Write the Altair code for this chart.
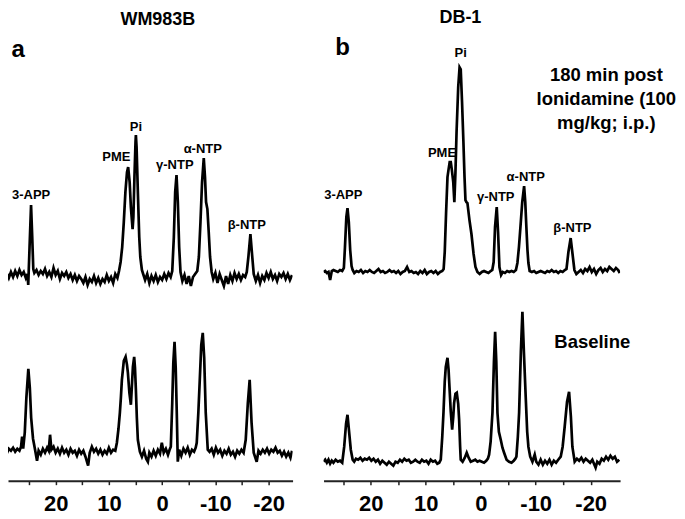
import altair as alt
import pandas as pd

# ---------------- data (ppm, intensity above baseline) ----------------
# Panel a (WM983B), 180 min post lonidamine
a_post_ppm = [30.0, 29.6, 29.2, 28.8, 28.4, 28.0, 27.6, 27.2, 26.8, 26.4, 26.0, 25.6, 25.3, 25.15, 24.9, 24.62, 24.4, 24.2,
              24.0, 23.6, 23.2, 22.8, 22.4, 22.0, 21.6, 21.2, 20.8, 20.4, 20.0, 19.6, 19.2, 18.8, 18.4, 18.0, 17.6, 17.2,
              16.8, 16.4, 16.0, 15.6, 15.2, 14.8, 14.4, 14.0, 13.6, 13.2, 12.8, 12.4, 12.0, 11.6, 11.2, 10.8, 10.4, 10.0,
              9.6, 9.2, 8.8, 8.4, 8.1, 7.8, 7.5, 7.2, 6.9, 6.6, 6.38, 6.1, 5.87, 5.55, 5.4, 5.2, 5.0, 4.93, 4.8, 4.56,
              4.3, 4.1, 3.8, 3.5, 3.2, 2.8, 2.4, 2.0, 1.6, 1.2, 0.8, 0.4, 0.0, -0.4, -0.8, -1.2, -1.6, -1.9, -2.2, -2.45,
              -2.7, -2.95, -3.2, -3.45, -3.8, -4.2, -4.6, -5.0, -5.4, -5.8, -6.2, -6.6, -6.9, -7.2, -7.5, -7.82, -8.05,
              -8.25, -8.5, -8.75, -9.0, -9.3, -9.6, -10.0, -10.4, -10.8, -11.2, -11.6, -12.0, -12.4, -12.8, -13.2, -13.6,
              -14.0, -14.4, -14.8, -15.2, -15.6, -15.9, -16.2, -16.58, -16.9, -17.2, -17.6, -18.0, -18.4, -18.8, -19.2,
              -19.6, -20.0, -20.4, -20.8, -21.2, -21.6, -22.0, -22.4, -22.8, -23.2, -23.6, -24.0, -24.4]
a_post_int = [2, -3, 4, -1, 5, 0, 6, 1, 7, 2, 5, -1, 3, -8, 30, 72, 40, 8,
              4, 7, 2, 6, 3, 8, 1, 5, 0, 9, 2, 6, -2, 4, 1, 5, -1, 3,
              -3, 2, -4, 1, -2, -6, 0, -8, -2, -5, 1, -6, -1, -7, -2, -5, 2, -4,
              0, -6, 3, -1, 6, 15, 30, 55, 85, 105, 110, 95, 70, 48, 60, 100, 135, 142, 130, 85,
              40, 20, 7, 2, -3, 3, -6, 1, -4, 2, -5, 0, -3, 3, -2, 4, 0, 6, 40, 85,
              102, 75, 30, 5, -4, 2, -7, 1, -9, 0, 3, 6, 20, 55, 95, 119, 100,
              75, 68, 45, 20, 5, -2, 4, -6, 3, -3, -9, 1, -7, 2, -4, 4,
              -2, 3, -3, 2, 0, 5, 20, 43, 22, 3, -4, 2, -6, 1, -3,
              4, -1, 5, -2, 2, -4, 3, 0, 4, -2, 3, -3, 2]

# Panel a (WM983B), baseline
a_base_ppm = [30.0, 29.6, 29.2, 28.8, 28.4, 28.0, 27.6, 27.2, 26.8, 26.5, 26.3, 26.1, 25.8, 25.5, 25.13, 24.85, 24.6,
              24.25, 23.9, 23.5, 23.2, 22.8, 22.4, 22.0, 21.6, 21.3, 21.05, 20.8, 20.4, 20.0, 19.6, 19.2, 18.8, 18.4,
              18.0, 17.6, 17.2, 16.8, 16.4, 16.0, 15.6, 15.2, 14.8, 14.4, 13.9, 13.6, 13.2, 12.8, 12.4, 12.0, 11.6,
              11.2, 10.8, 10.4, 10.0, 9.6, 9.2, 8.8, 8.5, 8.2, 7.94, 7.75, 7.56, 7.2, 6.86, 6.6, 6.43, 6.15, 5.87,
              5.65, 5.49, 5.25, 5.1, 4.93, 4.75, 4.56, 4.18, 3.8, 3.4, 3.0, 2.68, 2.4, 2.0, 1.6, 1.2, 0.8, 0.4, 0.06,
              -0.3, -0.7, -1.1, -1.4, -1.63, -1.9, -2.1, -2.33, -2.55, -2.75, -2.94, -3.2, -3.6, -4.0, -4.4, -4.8,
              -5.2, -5.6, -6.0, -6.3, -6.5, -6.8, -7.07, -7.35, -7.63, -7.9, -8.19, -8.57, -8.9, -9.3, -9.7, -10.1,
              -10.5, -10.9, -11.3, -11.7, -12.1, -12.5, -12.9, -13.3, -13.7, -14.1, -14.5, -14.9, -15.3, -15.7, -16.1,
              -16.44, -16.8, -17.2, -17.76, -18.1, -18.5, -18.9, -19.3, -19.7, -20.1, -20.5, -20.9, -21.3, -21.7,
              -22.1, -22.5, -22.9, -23.3, -23.7, -24.1, -24.4]
a_base_int = [0, 3, -1, 4, 2, 5, 1, 4, 2, 6, 16, 4, 20, 55, 84, 65, 35,
              14, 4, -8, 2, -2, 4, 0, 5, 2, 18, 3, 6, 0, 4, -1, 5, 0,
              3, -2, 4, 0, 2, -3, 3, -1, 2, -4, -13, 0, 6, 1, 4, -1, 3,
              -2, 2, -1, 5, 0, 3, 2, 10, 24, 40, 55, 73, 92, 96, 88, 80, 60, 48,
              70, 86, 96, 85, 63, 35, 13, 1, -4, 2, -6, -9, 0, -4, 2, -3, 3, -1, 10,
              0, 4, -2, 3, 6, 50, 90, 111, 85, 40, -9, 3, -3, 4, 0, 5,
              -2, 3, 1, 5, 10, 40, 73, 108, 120, 95, 40, 3, 1, 4, -2, 5,
              0, 3, -3, 2, -1, 4, -2, 1, -4, 2, -1, 3, 0, 13, 50,
              73, 30, 0, -9, 2, -1, 3, 0, 4, -1, 3, 1, 5, 0,
              2, -3, 1, -4, 0, -5, 2]

# Panel b (DB-1), 180 min post lonidamine
b_post_ppm = [28.6, 28.3, 28.0, 27.7, 27.4, 27.1, 26.8, 26.4, 26.0, 25.6, 25.2, 24.9, 24.7, 24.45, 24.24, 24.0, 23.75,
              23.5, 23.3, 23.0, 22.6, 22.2, 21.8, 21.4, 21.0, 20.6, 20.2, 19.8, 19.4, 19.0, 18.6, 18.2, 17.8, 17.4,
              17.0, 16.6, 16.2, 15.8, 15.4, 15.0, 14.6, 14.2, 13.8, 13.4, 13.0, 12.6, 12.2, 11.8, 11.4, 11.0, 10.6,
              10.2, 9.8, 9.4, 9.0, 8.6, 8.2, 7.8, 7.4, 7.0, 6.75, 6.55, 6.3, 6.05, 5.87, 5.65, 5.45, 5.25, 5.0, 4.8,
              4.6, 4.4, 4.1, 3.85, 3.64, 3.4, 3.15, 2.95, 2.78, 2.6, 2.42, 2.05, 1.69, 1.3, 0.96, 0.6, 0.2, -0.2,
              -0.6, -1.0, -1.4, -1.8, -2.1, -2.35, -2.6, -2.91, -3.15, -3.4, -3.7, -4.0, -4.4, -4.8, -5.2, -5.6, -6.0,
              -6.4, -6.67, -6.95, -7.22, -7.55, -7.89, -8.1, -8.3, -8.5, -8.67, -8.9, -9.3, -9.7, -10.1, -10.5,
              -10.9, -11.3, -11.7, -12.1, -12.5, -12.9, -13.3, -13.7, -14.1, -14.5, -14.9, -15.3, -15.6, -15.95,
              -16.36, -16.7, -17.04, -17.4, -17.8, -18.2, -18.6, -19.0, -19.4, -19.8, -20.2, -20.6, -21.0, -21.4,
              -21.8, -22.2, -22.6, -23.0, -23.4, -23.8, -24.2, -24.6, -25.0, -25.3]
b_post_int = [0, 1, -1, 0, -8, 1, 2, 1, 0, 2, 1, 4, 25, 55, 64, 50, 22,
              6, 2, -1, 1, 0, 2, -1, 1, 0, 2, 0, -1, 1, 3, 0, 1, -1,
              0, 2, 0, 1, -1, 1, -2, 0, 1, 5, 0, 1, -1, 0, -2, 1, -1,
              2, -2, 0, 1, -1, 1, -2, 0, 1, 3, 20, 60, 95, 102, 110, 110, 102, 90, 70,
              100, 140, 185, 205, 203, 170, 130, 95, 72, 70, 69, 52, 38, 18, 5, 0, -2, 0,
              1, 0, -1, 1, 2, 10, 45, 65, 40, 5, -3, 0, -1, 1, 0, 1, 0,
              2, 9, 25, 45, 70, 86, 70, 45, 22, 9, 1, 0, 1, -1, 0,
              1, 0, -1, 1, 0, 2, 0, 1, -1, 1, 0, 2, 3, 20,
              34, 18, 2, -2, 0, 2, -1, 3, 1, 5, 0, 3, -2, 2,
              4, 0, 3, 1, 5, 3, 1, 4, 2, -1]

# Panel b (DB-1), baseline
b_base_ppm = [28.6, 28.3, 28.0, 27.7, 27.4, 27.1, 26.8, 26.4, 26.0, 25.6, 25.2, 24.84, 24.5, 24.24, 23.95, 23.64, 23.3,
              23.02, 22.7, 22.3, 21.9, 21.5, 21.1, 20.7, 20.3, 19.9, 19.5, 19.1, 18.7, 18.3, 17.9, 17.5, 17.1, 16.7,
              16.3, 15.9, 15.5, 15.1, 14.7, 14.3, 13.9, 13.5, 13.1, 12.7, 12.3, 11.9, 11.5, 11.1, 10.7, 10.3, 9.9,
              9.5, 9.1, 8.7, 8.3, 7.9, 7.55, 7.27, 7.0, 6.78, 6.55, 6.36, 6.05, 5.85, 5.69, 5.45, 5.2, 5.0, 4.84,
              4.6, 4.36, 4.1, 3.93, 3.75, 3.64, 3.3, 2.9, 2.55, 2.2, 1.82, 1.4, 1.0, 0.6, 0.2, -0.2, -0.6, -1.0,
              -1.3, -1.52, -1.8, -2.13, -2.4, -2.62, -2.83, -3.04, -3.3, -3.64, -3.95, -4.25, -4.7, -5.16, -5.6,
              -6.0, -6.3, -6.49, -6.75, -6.98, -7.3, -7.58, -7.85, -8.18, -8.45, -8.67, -9.0, -9.4, -9.82, -10.1,
              -10.5, -10.9, -11.3, -11.7, -12.1, -12.5, -12.9, -13.3, -13.7, -14.1, -14.55, -14.9, -15.27, -15.7,
              -16.07, -16.4, -16.67, -17.09, -17.5, -17.9, -18.3, -18.7, -19.1, -19.5, -19.9, -20.3, -20.6, -20.9,
              -21.2, -21.6, -22.0, -22.4, -22.8, -23.2, -23.6, -24.0, -24.4, -24.8, -25.2]
b_base_int = [0, 2, -1, 2, -2, 1, -1, 2, 0, 1, -1, 15, 38, 47, 30, 12, 2,
              0, 3, 2, 4, 1, 3, 2, 4, 1, 3, 0, 2, -2, 1, -1, -3, 0,
              -2, -4, 0, -1, 2, 0, 3, 1, 2, -1, 0, 2, 0, -1, 2, 0, 1,
              -2, 2, 0, 1, -2, -1, 2, 25, 49, 80, 95, 104, 92, 75, 50, 32, 45, 59,
              68, 69, 58, 42, 15, 2, 0, 4, 9, 4, 0, 1, 2, 0, 1, 0, -1, 1,
              3, 7, 20, 49, 100, 130, 100, 49, 30, 22, 14, 9, 2, 0, -1,
              1, 3, 5, 25, 49, 110, 150, 110, 65, 30, 15, 5, 0, 7, 0,
              -3, 2, -3, 1, -2, 2, -3, 1, -1, 2, 5, 15, 35, 60,
              70, 45, 15, 0, 3, 1, 4, 0, 3, 1, -1, 2, -2, -6,
              0, -2, 3, 1, 5, 2, 6, 3, 5, 0, 2]

peak_names = ["3-APP", "PME", "Pi", "γ-NTP", "α-NTP", "β-NTP"]
# label anchor (ppm, intensity) for each panel's upper spectrum
a_label_ppm = [24.6, 8.6, 4.93, -2.38, -7.63, -15.9]
a_label_int = [82, 120, 150, 112, 128, 52]
b_label_ppm = [25.0, 7.05, 3.64, -2.73, -8.18, -16.67]
b_label_int = [77, 119, 219, 75, 95, 44]

FONT = "Liberation Sans"
A_XDOM = [28.95, -24.5]
B_XDOM = [28.6, -25.35]
TICKS = [25, 20, 15, 10, 5, 0, -5, -10, -15, -20]

bottom_axis = alt.Axis(
    values=TICKS,
    labelExpr="datum.value % 10 == 0 ? '' + datum.value : ''",
    title=None, grid=False,
    domainColor="#222222", domainWidth=2,
    tickColor="#222222", tickWidth=1.5, tickSize=4,
    labelFont=FONT, labelFontSize=22, labelFontWeight="bold", labelColor="black",
    labelPadding=9, labelFlush=False, labelOverlap=False,
)


def txt(x, y, text, xscale, yscale, axis, size=13, **kw):
    return alt.Chart().mark_text(
        text=text, font=FONT, fontSize=size, fontWeight="bold", color="black",
        align="center", baseline="middle", **kw
    ).encode(
        x=alt.X(datum=x, type="quantitative", scale=xscale, axis=axis),
        y=alt.Y(datum=y, type="quantitative", scale=yscale, axis=None),
    )


def panel(ppm, inten, xdom, ydom, width, height, axis, texts):
    xs = alt.Scale(domain=xdom, nice=False, zero=False)
    ys = alt.Scale(domain=ydom, nice=False, zero=False)
    df = pd.DataFrame({"ppm": ppm, "int": inten})
    line = alt.Chart(df).mark_line(color="black", strokeWidth=2.7, clip=True).encode(
        x=alt.X("ppm:Q", scale=xs, axis=axis),
        y=alt.Y("int:Q", scale=ys, axis=None),
        order="idx:Q",
    ).transform_window(idx="row_number()")
    layers = [line] + [txt(t[0], t[1], t[2], xs, ys, axis, **t[3]) for t in texts]
    return alt.layer(*layers).properties(width=width, height=height)


a_texts = [(x, y, n, {}) for x, y, n in zip(a_label_ppm, a_label_int, peak_names)]
a_texts += [(0.8, 257, "WM983B", {"size": 18}), (27.06, 227, "a", {"size": 24})]
b_texts = [(x, y, n, {}) for x, y, n in zip(b_label_ppm, b_label_int, peak_names)]
b_texts += [(3.7, 254, "DB-1", {"size": 18}), (25.15, 224, "b", {"size": 24}),
            (-22.85, 197, ["180 min post", "lonidamine (100", "mg/kg; i.p.)"], {"size": 18.5, "lineHeight": 24})]
b_base_texts = [(-20.3, 120, "Baseline", {"size": 18.5})]

a_top = panel(a_post_ppm, a_post_int, A_XDOM, [-13, 269], 285, 282, None, a_texts)
a_bot = panel(a_base_ppm, a_base_int, A_XDOM, [-28, 163], 285, 191, bottom_axis, [])
b_top = panel(b_post_ppm, b_post_int, B_XDOM, [-18, 264], 297, 282, None, b_texts)
b_bot = panel(b_base_ppm, b_base_int, B_XDOM, [-19, 172], 297, 191, bottom_axis, b_base_texts)

col_a = alt.vconcat(a_top, a_bot, spacing=0).resolve_scale(x="independent", y="independent")
col_b = alt.vconcat(b_top, b_bot, spacing=0).resolve_scale(x="independent", y="independent")

chart = alt.hconcat(col_a, col_b, spacing=31).resolve_scale(
    x="independent", y="independent"
).properties(padding=0, background="white").configure_view(stroke=None)

chart.save("out.html", embed_options={"renderer": "svg", "actions": False})
